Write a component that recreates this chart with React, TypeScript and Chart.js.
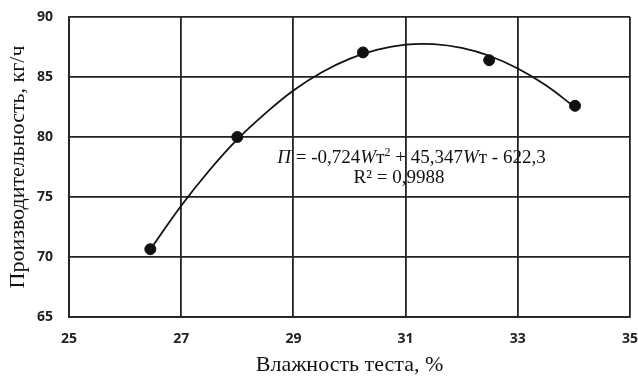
import React, { useEffect, useRef } from "react";
import { Chart, registerables } from "chart.js";

Chart.register(...registerables);

const measuredMoisture = [26.45, 28.0, 30.24, 32.49, 34.02];
const measuredOutput = [70.65, 80.0, 87.05, 86.4, 82.6];

const trendMoisture = [26.45, 27, 27.5, 28, 28.5, 29, 29.5, 30, 30.5, 31, 31.5, 32, 32.5, 33, 33.5, 34.02];
const trendOutput = [70.63, 74.27, 77.21, 79.8, 81.97, 83.88, 85.38, 86.51, 87.28, 87.7, 87.74, 87.42, 86.75, 85.71, 84.31, 82.47];

const xTitle = "Влажность теста, %";
const yTitle = "Производительность, кг/ч";
const r2Text = "R² = 0,9988";

type Seg = { t: string; italic?: boolean; sup?: boolean };
const equationSegs: Seg[] = [
  { t: "П", italic: true },
  { t: " = -0,724" },
  { t: "W", italic: true },
  { t: "т" },
  { t: "2", sup: true },
  { t: " + 45,347" },
  { t: "W", italic: true },
  { t: "т - 622,3" },
];

const SERIF = "'Liberation Serif', 'Times New Roman', serif";
const TICK_FONT = { family: "'Open Sans', sans-serif", size: 14, weight: "bold" };

const annotationPlugin = {
  id: "eqn",
  afterDatasetsDraw(chart: any) {
    const ctx = chart.ctx;
    const size = 19;
    const font = (s: Seg) =>
      `${s.italic ? "italic " : ""}${s.sup ? Math.round(size * 0.62) : size}px ${SERIF}`;
    ctx.save();
    ctx.fillStyle = "#111";
    ctx.textBaseline = "middle";
    ctx.textAlign = "left";
    let total = 0;
    for (const s of equationSegs) {
      ctx.font = font(s);
      total += ctx.measureText(s.t).width;
    }
    const cx = 411.5;
    const cy = 158;
    let x = cx - total / 2;
    for (const s of equationSegs) {
      ctx.font = font(s);
      ctx.fillText(s.t, x, s.sup ? cy - 5 : cy);
      x += ctx.measureText(s.t).width;
    }
    ctx.font = `${size}px ${SERIF}`;
    ctx.textAlign = "center";
    ctx.fillText(r2Text, 399, 178);
    ctx.restore();
  },
};

export default function App() {
  const ref = useRef<HTMLCanvasElement | null>(null);
  useEffect(() => {
    if (!ref.current) return;
    const chart = new Chart(ref.current, {
      type: "scatter",
      data: {
        datasets: [
          {
            label: "trend",
            data: trendMoisture.map((x, i) => ({ x, y: trendOutput[i] })),
            showLine: true,
            borderColor: "#111",
            borderWidth: 1.8,
            pointRadius: 0,
            tension: 0.4,
          },
          {
            label: "data",
            data: measuredMoisture.map((x, i) => ({ x, y: measuredOutput[i] })),
            backgroundColor: "#111",
            borderColor: "#111",
            pointRadius: 5.5,
            showLine: false,
          },
        ],
      },
      options: {
        animation: false,
        responsive: false,
        maintainAspectRatio: false,
        layout: { padding: { left: 0, right: 8, top: 17, bottom: 0 } },
        plugins: { legend: { display: false }, tooltip: { enabled: false } },
        scales: {
          x: {
            type: "linear",
            min: 25,
            max: 35,
            ticks: {
              stepSize: 2,
              padding: 0,
              maxRotation: 0,
              color: "#222",
              font: TICK_FONT,
            },
            grid: {
              color: "#222",
              lineWidth: 1.8,
              drawTicks: true,
              tickLength: 14,
              tickColor: "rgba(0,0,0,0)",
            },
            border: { color: "#222", width: 1.8 },
            title: {
              display: true,
              text: xTitle,
              color: "#111",
              font: { family: SERIF, size: 22, lineHeight: 1 },
              padding: { top: 0, bottom: 0 },
            },
            afterFit: (s: any) => {
              s.height = 59;
            },
          },
          y: {
            min: 65,
            max: 90,
            ticks: {
              stepSize: 5,
              padding: 0,
              color: "#222",
              font: TICK_FONT,
            },
            grid: {
              color: "#222",
              lineWidth: 1.8,
              drawTicks: true,
              tickLength: 16,
              tickColor: "rgba(0,0,0,0)",
            },
            border: { color: "#222", width: 1.8 },
            title: {
              display: true,
              text: yTitle,
              color: "#111",
              font: { family: SERIF, size: 22, lineHeight: 1 },
              padding: { top: 7, bottom: 0 },
            },
            afterFit: (s: any) => {
              s.width = 69;
            },
          },
        },
      },
      plugins: [annotationPlugin],
    } as any);
    return () => chart.destroy();
  }, []);
  return (
    <div style={{ position: "fixed", left: 0, top: 0, width: 638, height: 376, background: "#fff" }}>
      <canvas ref={ref} width={638} height={376} />
    </div>
  );
}
